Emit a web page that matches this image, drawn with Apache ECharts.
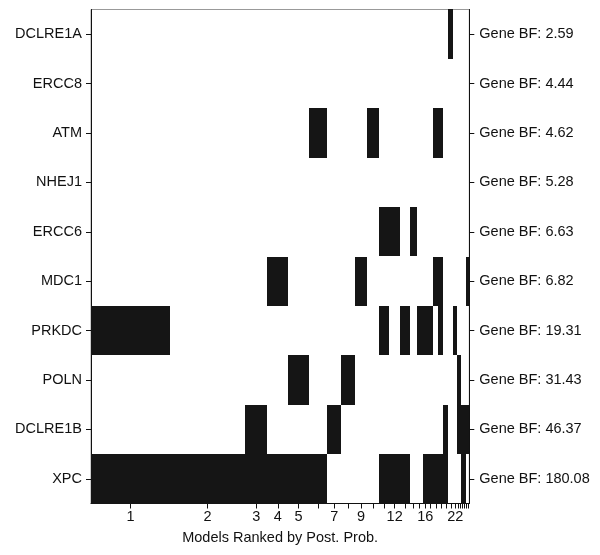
<!DOCTYPE html>
<html>
<head>
<meta charset="utf-8">
<script src="https://cdn.jsdelivr.net/npm/echarts@6/dist/echarts.min.js"></script>
<style>html,body{margin:0;padding:0;background:#fff}#c{width:600px;height:555px}</style>
</head>
<body>
<div id="c"></div>
<script>
// Genes, top to bottom
const genes = ['DCLRE1A','ERCC8','ATM','NHEJ1','ERCC6','MDC1','PRKDC','POLN','DCLRE1B','XPC'];
const geneBF = ['2.59','4.44','4.62','5.28','6.63','6.82','19.31','31.43','46.37','180.08'];
// Posterior probability of each ranked model (bar widths)
const postProb = [0.2088,0.1983,0.0589,0.0555,0.0539,0.0484,0.0378,0.0354,0.0333,0.0301,
  0.0281,0.0281,0.0256,0.0185,0.0159,0.0140,0.0140,0.0132,0.0132,0.0132,0.0132,0.0106,
  0.0053,0.0053,0.0056,0.0056,0.0050,0.0050];
// Genes included in each model
const modelGenes = [
  ['XPC','PRKDC'],['XPC'],['XPC','DCLRE1B'],['XPC','MDC1'],['XPC','POLN'],['XPC','ATM'],
  ['DCLRE1B'],['POLN'],['MDC1'],['ATM'],['XPC','PRKDC','ERCC6'],['XPC','ERCC6'],['XPC','PRKDC'],
  ['ERCC6'],['PRKDC'],['XPC','PRKDC'],['XPC','PRKDC'],['XPC','MDC1','ATM'],['XPC','MDC1','ATM','PRKDC'],
  ['XPC','DCLRE1B'],['DCLRE1A'],['PRKDC'],['DCLRE1B','POLN'],['DCLRE1B','POLN'],['XPC','DCLRE1B'],
  ['XPC','DCLRE1B'],['DCLRE1B','MDC1'],['DCLRE1B','MDC1']];
// Model ranks that get a printed tick label
const labeledModels = [1,2,3,4,5,7,9,12,16,22];

const starts = [], ends = [], centers = [];
let cum = 0;
postProb.forEach(p => { starts.push(cum); cum += p; ends.push(cum); centers.push(cum - p / 2); });
const total = cum;

const rects = [];
modelGenes.forEach((gs, j) => {
  gs.forEach(g => rects.push([starts[j], ends[j], genes.indexOf(g)]));
});

const font = 'Liberation Sans, Arial, Helvetica, sans-serif';
const chart = echarts.init(document.getElementById('c'), null, {renderer: 'canvas'});
chart.setOption({
  animation: false,
  grid: {left: 91, right: 130.7, top: 9.5, bottom: 51.5, show: true, borderColor: '#999', borderWidth: 1, backgroundColor: 'transparent'},
  xAxis: {
    type: 'value', min: 0, max: total,
    name: 'Models Ranked by Post. Prob.', nameLocation: 'middle', nameGap: 27,
    nameTextStyle: {fontFamily: font, fontSize: 14.5, color: '#111'},
    axisLine: {show: true, lineStyle: {color: '#111', width: 1}},
    axisTick: {show: true, length: 5, lineStyle: {color: '#111'}, customValues: centers},
    axisLabel: {
      fontFamily: font, fontSize: 14.5, color: '#111', margin: 6,
      customValues: labeledModels.map(m => centers[m - 1]),
      formatter: v => {
        let best = 0, d = Infinity;
        centers.forEach((c, i) => { if (Math.abs(c - v) < d) { d = Math.abs(c - v); best = i; } });
        return String(best + 1);
      }
    },
    splitLine: {show: false}
  },
  yAxis: [{
    type: 'category', data: genes, inverse: true, position: 'left',
    axisLine: {show: true, lineStyle: {color: '#111'}},
    axisTick: {show: true, length: 5, alignWithLabel: true, lineStyle: {color: '#111'}},
    axisLabel: {fontFamily: font, fontSize: 14.5, color: '#111', margin: 9},
    splitLine: {show: false}
  }, {
    type: 'category', data: geneBF.map(b => 'Gene BF: ' + b), inverse: true, position: 'right',
    axisLine: {show: true, lineStyle: {color: '#111'}},
    axisTick: {show: true, length: 5, alignWithLabel: true, lineStyle: {color: '#111'}},
    axisLabel: {fontFamily: font, fontSize: 14.5, color: '#111', margin: 10},
    splitLine: {show: false}
  }],
  series: [{
    type: 'custom',
    data: rects,
    encode: {x: [0, 1], y: 2},
    renderItem: (params, api) => {
      const p0 = api.coord([api.value(0), api.value(2)]);
      const p1 = api.coord([api.value(1), api.value(2)]);
      const h = api.size([0, 1])[1];
      const x0 = Math.round(p0[0]), x1 = Math.round(p1[0]);
      const y0 = Math.round(p0[1] - h / 2), y1 = Math.round(p0[1] + h / 2);
      return {
        type: 'rect',
        shape: {x: x0, y: y0, width: Math.max(1, x1 - x0), height: y1 - y0},
        style: {fill: '#151515'}
      };
    }
  }]
});
</script>
</body>
</html>
